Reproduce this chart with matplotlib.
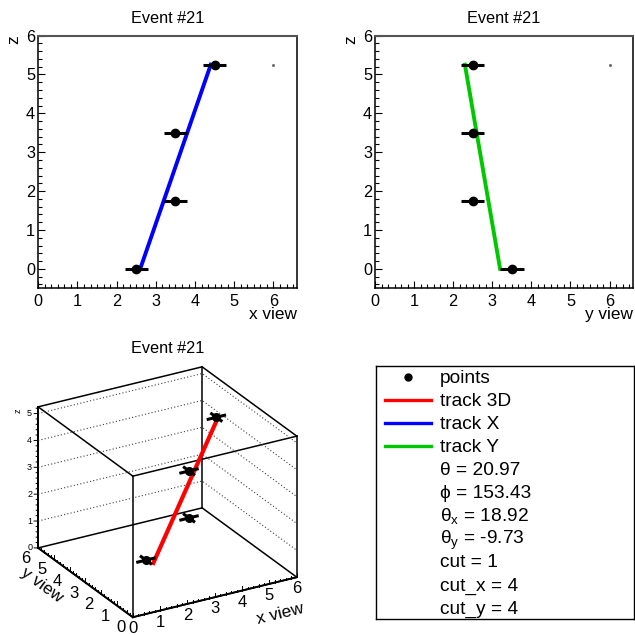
import numpy as np
import matplotlib
matplotlib.use('Agg')
import matplotlib.pyplot as plt
from matplotlib.ticker import MultipleLocator
from itertools import product

plt.rcParams['font.family'] = ['Liberation Sans', 'DejaVu Sans']
plt.rcParams['mathtext.fontset'] = 'custom'
plt.rcParams['mathtext.rm'] = 'Liberation Sans'
plt.rcParams['mathtext.it'] = 'Liberation Sans:italic'

# hits of event 21
pt_x = [2.5, 3.5, 3.5, 4.5]
pt_y = [3.5, 2.5, 2.5, 2.5]
pt_z = [0.0, 1.75, 3.5, 5.25]
pt_err = [0.3, 0.3, 0.3, 0.3]

# fitted tracks, end points at z = 0 and z = 5.25
trk_z = [0.0, 5.25]
trk_x = [2.6, 4.4]
trk_y = [3.2, 2.3]

# stray reference point seen in both views
ref_x = [6.0]
ref_z = [5.25]

title = 'Event #21'
grid_z = [1, 2, 3, 4, 5]
ticks_xy = [0, 1, 2, 3, 4, 5, 6]
ticks_z = [0, 1, 2, 3, 4, 5]

legend_labels = ['points', 'track 3D', 'track X', 'track Y',
                 '\u03b8 = 20.97', '\u03d5 = 153.43',
                 '\u03b8$_{\\rm x}$ = 18.92', '\u03b8$_{\\rm y}$ = -9.73',
                 'cut = 1', 'cut_x = 4', 'cut_y = 4']
legend_kind = ['marker', 'line', 'line', 'line'] + [None] * 7

RED = '#ff0000'
BLUE = '#0000ff'
GREEN = '#00c800'

W = H = 635
fig = plt.figure(figsize=(W / 100, H / 100), dpi=100)


def px_rect(x0, y0, x1, y1):
    return [x0 / W, 1 - y1 / H, (x1 - x0) / W, (y1 - y0) / H]


def view_panel(rect, coord, track, color, xlabel):
    ax = fig.add_axes(rect)
    ax.errorbar(coord, pt_z, xerr=pt_err, fmt='o', color='black', ms=6,
                elinewidth=2.2, capsize=0, zorder=4)
    ax.plot(track, trk_z, color=color, lw=2.8, zorder=3)
    ax.plot(ref_x, ref_z, ls='none', marker='s', ms=1, color='0.4')
    ax.set_xlim(0, 6.6)
    ax.set_ylim(-0.5, 6)
    ax.xaxis.set_major_locator(MultipleLocator(1))
    ax.xaxis.set_minor_locator(MultipleLocator(1 / 6))
    ax.yaxis.set_major_locator(MultipleLocator(1))
    ax.yaxis.set_minor_locator(MultipleLocator(0.2))
    ax.tick_params(which='both', direction='in', top=False, right=False,
                   labelsize=11.7, width=0.8)
    ax.tick_params(which='major', length=5.3)
    ax.tick_params(which='minor', length=3)
    ax.tick_params(axis='x', pad=4.3)
    ax.tick_params(axis='y', pad=2.2)
    ax.spines['top'].set_color('#555555')
    ax.spines['top'].set_linewidth(1.5)
    for s in ['left', 'bottom', 'right']:
        ax.spines[s].set_linewidth(1.1)
    ax.set_title(title, fontsize=11.7, pad=9)
    ax.set_xlabel(xlabel, fontsize=12.4, ha='right', va='baseline')
    ax.xaxis.set_label_coords(1.0, -0.12)
    ax.set_ylabel('z', fontsize=12.4, loc='top')
    ax.yaxis.set_label_coords(-0.065, 1.0)
    return ax


view_panel(px_rect(38.3, 35.5, 297, 288.3), pt_x, trk_x, BLUE, 'x view')
view_panel(px_rect(375, 35.5, 633, 288.3), pt_y, trk_y, GREEN, 'y view')

# 3D view
ax3 = fig.add_axes(px_rect(39.1, 370.4, 289.1, 620.4), projection='3d',
                   computed_zorder=False)
ax3.set_proj_type('ortho')
ax3.view_init(elev=25, azim=-120)
ax3.set_box_aspect((1, 1, 0.822), zoom=1.2027)
xl, yl, zl = (0, 6), (0, 6), (0, 5.25)
ax3.set_xlim(*xl)
ax3.set_ylim(*yl)
ax3.set_zlim(*zl)
ax3.set_axis_off()
ax3.patch.set_alpha(0)


def line3(xs, ys, zs, **kw):
    ax3.plot(xs, ys, zs, clip_on=False, **kw)


def text3(x, y, z, s, **kw):
    ax3.text(x, y, z, s, clip_on=False, **kw)


# box edges
corners = list(product(xl, yl, zl))
for a, b in product(corners, corners):
    if a < b and sum(p != q for p, q in zip(a, b)) == 1:
        line3(*zip(a, b), color='black', lw=1.1, zorder=1)
# axis edges a bit heavier
line3([0, 6], [0, 0], [0, 0], color='black', lw=1.4, zorder=1)
line3([0, 0], [0, 6], [0, 0], color='black', lw=1.4, zorder=1)
line3([0, 0], [6, 6], [0, 5.25], color='black', lw=1.4, zorder=1)

for z in grid_z:
    line3([0, 6, 6], [6, 6, 0], [z, z, z], ls=(0, (1, 2)), color='0.25',
          lw=0.8, zorder=1)

# z axis ticks (pointing left on screen)
tick_dir = np.array([-0.1375, 0.0786]) / 5.0  # world offset per pixel
for z in np.arange(0, 5.25 + 1e-9, 0.2):
    major = abs(z - round(z)) < 1e-6
    d = tick_dir * (4 if major else 2)
    line3([0, d[0]], [6, 6 + d[1]], [z, z], color='black', lw=0.7, zorder=1)
for z in ticks_z:
    d = tick_dir * 6
    text3(d[0], 6 + d[1], z, str(z), fontsize=6.5, ha='right', va='center')
dz = tick_dir * 20
text3(dz[0], 6 + dz[1], 5.1, 'z', zdir='z', fontsize=6.5, ha='center', va='center')

# x and y axis ticks on the floor edges
for v in np.arange(0, 6 + 1e-9, 0.2):
    major = abs(v - round(v)) < 1e-6
    h = 0.16 if major else 0.08
    line3([v, v], [0, 0], [0, h], color='black', lw=0.7, zorder=1)
    line3([0, 0], [v, v], [0, h], color='black', lw=0.7, zorder=1)
for v in ticks_xy:
    text3(v, 0, -0.43, str(v), fontsize=12, ha='center', va='center')
    text3(-0.44, v, -0.28, str(v), fontsize=12, ha='center', va='center')
text3(5.38, 0, -1.2, 'x view', zdir='x', fontsize=12.4, ha='center', va='center')
text3(-0.75, 4.47, -0.55, 'y view', zdir='y', fontsize=12.4, ha='center', va='center')

# track and hits
line3(trk_x, trk_y, trk_z, color=RED, lw=3, zorder=3)
for x, y, z, e in zip(pt_x, pt_y, pt_z, pt_err):
    line3([x - e, x + e], [y, y], [z, z], color='black', lw=2.2, zorder=4)
    line3([x, x], [y - e, y + e], [z, z], color='black', lw=2.2, zorder=4)
line3(pt_x, pt_y, pt_z, ls='none', marker='o', color='black', ms=5.5, zorder=5)

fig.text(168 / W, 1 - 352.7 / H, title, ha='center', va='baseline', fontsize=11.7)

# legend pad
axl = fig.add_axes(px_rect(376, 366, 634, 619))
axl.set_xlim(0, 1)
axl.set_ylim(0, 1)
axl.set_xticks([])
axl.set_yticks([])
for s in axl.spines.values():
    s.set_linewidth(1.0)
colors = ['black', RED, BLUE, GREEN]
for i, (lab, kind) in enumerate(zip(legend_labels, legend_kind)):
    yy = 0.958 - i * 0.0909
    if kind == 'marker':
        axl.plot([0.124], [yy], marker='o', ms=5, color=colors[i])
    elif kind == 'line':
        axl.plot([0.035, 0.212], [yy, yy], color=colors[i], lw=2.4)
    axl.text(0.248, yy - 0.027, lab, fontsize=13.8, ha='left', va='baseline')

fig.savefig('out.png', dpi=100)
